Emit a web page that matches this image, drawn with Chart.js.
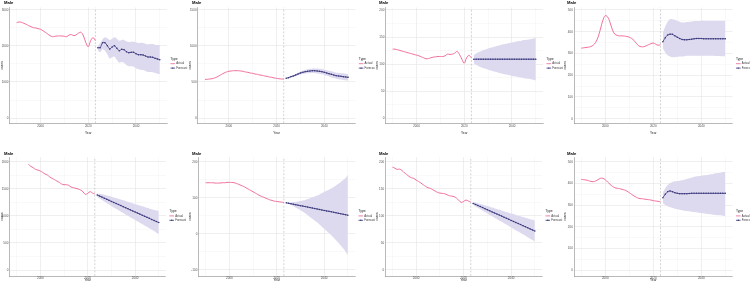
<!DOCTYPE html>
<html><head><meta charset="utf-8">
<script src="https://cdn.jsdelivr.net/npm/chart.js@4"></script>
<style>
html,body{margin:0;padding:0;background:#fff}
body{width:750px;height:282px;position:relative;overflow:hidden}
canvas{position:absolute}
</style>
</head><body>
<canvas id="c1"></canvas><canvas id="c2"></canvas><canvas id="c3"></canvas><canvas id="c4"></canvas>
<canvas id="c5"></canvas><canvas id="c6"></canvas><canvas id="c7"></canvas><canvas id="c8"></canvas>
<script>
// ---------- data ----------
const actualYears = [1990,1991,1992,1993,1994,1995,1996,1997,1998,1999,2000,2001,2002,2003,2004,2005,2006,2007,2008,2009,2010,2011,2012,2013,2014,2015,2016,2017,2018,2019,2020,2021,2022,2023];
const actualYearsFrom1995 = [1995,1996,1997,1998,1999,2000,2001,2002,2003,2004,2005,2006,2007,2008,2009,2010,2011,2012,2013,2014,2015,2016,2017,2018,2019,2020,2021,2022,2023];
const forecastYears = [2024,2025,2026,2027,2028,2029,2030,2031,2032,2033,2034,2035,2036,2037,2038,2039,2040,2041,2042,2043,2044,2045,2046,2047,2048,2049,2050];
const splitYear = 2023;
const xTickLabels = [2000, 2020, 2040];
const xGridYears = [1990, 2000, 2010, 2020, 2030, 2040, 2050];
const panelTitle = 'Male';
const seriesNames = ['Actual', 'Forecast'];

const p1Actual = [2648,2667,2657,2630,2602,2565,2537,2509,2500,2481,2463,2426,2380,2333,2287,2259,2269,2278,2278,2278,2269,2259,2306,2315,2287,2315,2361,2380,2278,2093,1981,2148,2231,2148];
const p1Forecast = [1954,1954,2093,2093,2009,1917,1972,2009,1935,1870,1907,1898,1843,1815,1824,1824,1787,1759,1759,1750,1722,1694,1694,1685,1657,1639,1620];
const p1Upper = [2000,2074,2185,2241,2213,2167,2204,2241,2204,2148,2167,2167,2130,2111,2120,2120,2102,2083,2093,2083,2065,2046,2056,2056,2037,2028,2028];
const p1Lower = [1889,1824,1907,1870,1769,1648,1685,1704,1611,1537,1556,1537,1472,1435,1435,1426,1380,1352,1343,1333,1306,1278,1278,1269,1250,1231,1222];
const p1YTicks = [0,1000,2000,3000];

const p2Actual = [537,537,542,546,556,569,588,606,625,639,648,653,657,657,657,653,648,639,634,625,620,611,606,597,593,583,579,569,565,556,551,546,542,542];
const p2Forecast = [551,560,574,583,597,611,625,634,644,648,653,657,657,653,648,644,634,625,616,606,597,588,583,579,574,569,565];
const p2Upper = [558,569,586,597,613,630,646,657,669,676,683,689,689,688,683,681,671,664,655,648,639,630,627,623,620,615,611];
const p2Lower = [544,551,562,569,581,592,604,611,619,620,623,625,625,618,613,607,597,586,577,564,555,546,539,535,528,523,519];
const p2YTicks = [0,500,1000,1500];

const p3Actual = [127.7,127.7,126.5,125.3,124.0,122.8,121.5,120.3,119.1,117.8,116.6,115.4,113.5,111.7,109.8,110.4,111.7,112.9,113.5,114.1,114.1,114.1,115.4,118.5,117.8,118.5,120.3,123.4,117.8,109.2,101.8,111.7,116.0,111.7];
const p3Forecast = [109.2,109.2,109.2,109.2,109.2,109.2,109.2,109.2,109.2,109.2,109.2,109.2,109.2,109.2,109.2,109.2,109.2,109.2,109.2,109.2,109.2,109.2,109.2,109.2,109.2,109.2,109.2];
const p3Upper = [116.6,119.7,122.2,124.0,125.9,127.1,128.9,130.2,131.4,132.6,133.9,135.1,136.3,137.0,138.2,138.8,140.1,140.7,141.9,142.5,143.1,144.4,145.0,145.6,146.2,147.5,148.1];
const p3Lower = [101.8,98.7,96.2,94.4,92.5,91.3,89.5,88.2,87.0,85.8,84.5,83.3,82.1,81.4,80.2,79.6,78.3,77.7,76.5,75.9,75.3,74.0,73.4,72.8,72.2,70.9,70.3];
const p3YTicks = [0,50,100,150,200];

const p4Actual = [324.5,326,327.6,329,332,338,351,375,412,452,474,468,443,409,389,383,381,381,380,378,375,369,360,346,335,331,331,335,340,345,348,343,338,340];
const p4Forecast = [354,372,385,389,388,381,375,369,364.5,363,363,364.5,366,367.6,369,369,369,367.6,367.6,367.6,367.6,367.6,367.6,367.6,367.6,367.6,367.6];
const p4Upper = [394,424.5,446,457,458,455,451,446,443,443,444.5,446,447.6,449,449,449,451,451,451,451,451,451,451,451,451,451,451];
const p4Lower = [324.5,304.5,292,286,283,283,284.5,286,286,287.6,289,289,289,289,289,289,289,289,289,289,289,289,288,288,287.6,287,286];
const p4YTicks = [0,100,200,300,400,500];

const p5Actual = [1951,1914,1889,1858,1846,1828,1803,1772,1754,1717,1692,1668,1643,1618,1588,1575,1575,1563,1532,1520,1508,1495,1477,1446,1397,1415,1446,1421,1403];
const p5Forecast = [1385,1365,1346,1326,1307,1287,1267,1248,1228,1209,1189,1169,1150,1130,1110,1091,1071,1052,1032,1012,993,973,954,934,914,895,875];
const p5Upper = [1415,1410,1401,1389,1378,1365,1352,1340,1327,1314,1300,1286,1273,1259,1245,1232,1218,1204,1190,1176,1163,1149,1136,1122,1110,1100,1090];
const p5Lower = [1355,1320,1291,1263,1236,1209,1182,1156,1129,1104,1078,1052,1027,1001,975,950,924,900,874,848,823,797,772,746,718,690,660];
const p5YTicks = [0,500,1000,1500,2000];

const p6Actual = [141.7,141.7,141.7,141.7,140.8,140.8,140.8,141.7,141.7,142.6,142.6,142.6,141.7,139.8,137.0,134.3,131.5,127.8,124.1,120.4,116.7,113.0,109.3,105.6,102.8,100.0,97.2,94.5,92.6,90.7,89.8,88.9,88.0,87.0];
const p6Forecast = [86.1,84.8,83.5,82.2,80.8,79.5,78.2,76.9,75.6,74.3,72.9,71.6,70.3,69.0,67.7,66.3,65.0,63.7,62.4,61.1,59.8,58.4,57.1,55.8,54.5,53.2,51.9];
const p6Upper = [87.0,86.7,87.2,87.8,88.2,89.7,91.2,92.6,94.1,96.5,98.8,101.2,103.6,106.0,109.4,112.6,115.9,119.3,122.6,125.9,130.2,134.3,138.6,143.8,149.0,155.1,163.0];
const p6Lower = [85.2,82.9,79.8,76.6,73.4,69.3,65.2,61.2,57.1,52.1,47.0,42.0,37.0,32.0,26.0,20.0,14.1,8.1,2.2,-3.7,-10.6,-17.5,-24.4,-32.2,-40.0,-48.7,-59.2];
const p6YTicks = [-100,0,100,200];

const p7Actual = [190.0,188.2,185.7,186.3,183.9,179.6,176.5,172.8,170.4,169.1,166.1,163.6,160.5,157.4,154.4,151.9,150.7,148.2,145.8,143.3,142.1,141.5,140.8,139.0,137.1,136.5,135.3,132.8,128.5,124.8,126.7,129.2,127.3,125.5];
const p7Forecast = [123.0,121.0,119.1,117.1,115.2,113.2,111.2,109.3,107.3,105.4,103.4,101.4,99.5,97.5,95.5,93.6,91.6,89.7,87.7,85.7,83.8,81.8,79.9,77.9,75.9,74.0,72.0];
const p7Upper = [125.5,124.5,123.4,122.1,120.9,119.5,118.1,116.8,115.4,114.1,112.7,111.3,110.0,108.6,107.2,105.9,104.5,103.2,101.8,100.4,99.1,97.7,96.5,95.2,93.9,92.7,91.4];
const p7Lower = [120.5,117.5,114.8,112.1,109.5,106.9,104.3,101.8,99.2,96.7,94.1,91.5,89.0,86.4,83.8,81.3,78.7,76.2,73.6,71.0,68.5,65.9,63.3,60.6,57.9,55.3,52.6];
const p7YTicks = [0,50,100,150,200];

const p8Actual = [418.8,417.2,415.7,412.6,409.6,408.0,411.1,417.2,423.4,423.4,417.2,406.5,395.8,386.6,380.4,377.4,375.8,372.8,369.7,365.1,357.4,349.8,342.1,336.0,331.3,329.8,328.3,326.7,325.2,323.7,320.6,319.1,317.5,316.0];
const p8Forecast = [334.4,349.8,362.0,365.1,362.0,357.4,354.4,352.8,352.8,352.8,352.8,353.6,354.4,354.4,354.4,354.4,354.4,354.4,354.4,354.4,354.4,354.4,354.4,354.4,354.4,354.4,354.4];
const p8Upper = [357.4,377.4,392.7,401.9,406.5,409.6,411.1,412.6,414.2,417.2,420.3,423.4,426.5,429.5,432.6,434.1,435.7,437.2,438.7,440.3,441.8,443.3,446.4,448.0,449.5,452.5,454.1];
const p8Lower = [311.4,300.7,294.5,289.9,286.9,283.8,280.7,279.2,276.1,274.6,273.1,271.5,270.0,268.4,266.9,265.4,263.8,262.3,260.8,259.2,257.7,256.2,254.6,253.1,253.1,251.6,250.1];
const p8YTicks = [0,100,200,300,400,500];

// ---------- layout / style ----------
const PINK = '#ee5f92', NAVY = '#37357a', BAND = '#dddaef';
const FONT = '"Liberation Sans", Arial, Helvetica, sans-serif';
Chart.defaults.font.family = FONT;

const panels = [
  {id:'c1', left:0,   top:0,   w:188, h:141, L:9.5,  R:167,   T:7.5, B:123.3, yMin:-147,  yMax:3069,  ax:actualYears, a:p1Actual, f:p1Forecast, u:p1Upper, lo:p1Lower, yt:p1YTicks, row:0},
  {id:'c2', left:188, top:0,   w:187, h:141, L:9.8,  R:167.3, T:7.5, B:123.3, yMin:-73.6, yMax:1534.7,ax:actualYears, a:p2Actual, f:p2Forecast, u:p2Upper, lo:p2Lower, yt:p2YTicks, row:0},
  {id:'c3', left:375, top:0,   w:188, h:141, L:10.5, R:168,   T:7.5, B:123.3, yMin:-9.3,  yMax:204.6, ax:actualYears, a:p3Actual, f:p3Forecast, u:p3Upper, lo:p3Lower, yt:p3YTicks, row:0},
  {id:'c4', left:563, top:0,   w:187, h:141, L:11,   R:169.5, T:7.5, B:123.3, yMin:-21.2, yMax:511.5, ax:actualYears, a:p4Actual, f:p4Forecast, u:p4Upper, lo:p4Lower, yt:p4YTicks, row:0},
  {id:'c5', left:0,   top:141, w:188, h:141, L:9.5,  R:165.9, T:16,  B:135,   yMin:-110.8,yMax:2086.8,ax:actualYearsFrom1995, a:p5Actual, f:p5Forecast, u:p5Upper, lo:p5Lower, yt:p5YTicks, row:1},
  {id:'c6', left:188, top:141, w:187, h:141, L:10.5, R:167,   T:16,  B:135,   yMin:-116.7,yMax:213,   ax:actualYears, a:p6Actual, f:p6Forecast, u:p6Upper, lo:p6Lower, yt:p6YTicks, row:1},
  {id:'c7', left:375, top:141, w:188, h:141, L:10.3, R:167,   T:16,  B:135,   yMin:-11.1, yMax:208.7, ax:actualYears, a:p7Actual, f:p7Forecast, u:p7Upper, lo:p7Lower, yt:p7YTicks, row:1},
  {id:'c8', left:563, top:141, w:187, h:141, L:11,   R:169.5, T:16,  B:135,   yMin:-26.2, yMax:521.6, ax:actualYears, a:p8Actual, f:p8Forecast, u:p8Upper, lo:p8Lower, yt:p8YTicks, row:1}
];

function pts(xs, ys){ return xs.map((x,i)=>({x:x, y:ys[i]})); }

function makeChart(p){
  const cv = document.getElementById(p.id);
  cv.width = p.w; cv.height = p.h;
  cv.style.left = p.left + 'px'; cv.style.top = p.top + 'px';
  cv.style.width = p.w + 'px'; cv.style.height = p.h + 'px';
  const half = (p.yt[1]-p.yt[0])/2;
  // major ticks plus the minor ones halfway between (ggplot-style minor grid)
  const yGrid = [];
  p.yt.forEach((t, i) => {
    if (i === 0 && t - half >= p.yMin) yGrid.push(t - half);
    yGrid.push(t);
    if (t + half <= p.yMax) yGrid.push(t + half);
  });
  const isMajY = v => p.yt.indexOf(v) >= 0;
  const isMajX = v => xTickLabels.indexOf(v) >= 0;
  const titleY = p.row === 0 ? 2.8 : 12.7;
  const legType = p.row === 0 ? 59.3 : 70.5;

  const deco = {
    id: 'deco' + p.id,
    afterDraw(chart){
      const ctx = chart.ctx;
      const ca = chart.chartArea;
      ctx.save();
      ctx.textBaseline = 'middle';
      ctx.textAlign = 'left';
      ctx.fillStyle = '#000';
      ctx.font = 'bold 4.2px ' + FONT;
      ctx.fillText(panelTitle, 4, titleY);
      const lx = ca.right + 3.5;
      ctx.font = '3.3px ' + FONT;
      ctx.fillStyle = '#222';
      ctx.fillText('Type', lx, legType);
      const ys = [legType + 4.4, legType + 8.8];
      const cols = [PINK, NAVY];
      for (let i = 0; i < 2; i++) {
        ctx.strokeStyle = cols[i];
        ctx.lineWidth = 0.8;
        ctx.beginPath(); ctx.moveTo(lx, ys[i]); ctx.lineTo(lx + 4.6, ys[i]); ctx.stroke();
        if (i === 1) { ctx.fillStyle = NAVY; ctx.beginPath(); ctx.arc(lx + 2.3, ys[i], 0.7, 0, Math.PI*2); ctx.fill(); }
        ctx.fillStyle = '#333';
        ctx.font = '2.8px ' + FONT;
        ctx.fillText(seriesNames[i], lx + 5.8, ys[i]);
      }
      ctx.restore();
    }
  };

  new Chart(cv, {
    type: 'line',
    data: { datasets: [
      { label: seriesNames[1], data: pts(forecastYears, p.f), borderColor: NAVY, borderWidth: 0.8,
        pointRadius: 0.75, pointBackgroundColor: NAVY, pointBorderWidth: 0, tension: 0.3, fill: false, order: 0 },
      { label: seriesNames[0], data: pts(p.ax, p.a), borderColor: PINK, borderWidth: 0.9,
        pointRadius: 0, tension: 0.4, fill: false, order: 1 },
      { label: 'split', data: [{x: splitYear, y: p.yMin}, {x: splitYear, y: p.yMax}], borderColor: '#b5b5b5',
        borderWidth: 0.6, borderDash: [2, 1.6], pointRadius: 0, fill: false, order: 2 },
      { label: 'upper', data: pts(forecastYears, p.u), borderWidth: 0, borderColor: 'rgba(0,0,0,0)',
        pointRadius: 0, tension: 0.3, fill: '+1', backgroundColor: BAND, order: 3 },
      { label: 'lower', data: pts(forecastYears, p.lo), borderWidth: 0, borderColor: 'rgba(0,0,0,0)',
        pointRadius: 0, tension: 0.3, fill: false, order: 4 }
    ]},
    options: {
      responsive: false, animation: false, devicePixelRatio: 1,
      layout: { padding: { left: 0, top: p.T, right: p.w - p.R, bottom: 0 } },
      plugins: { legend: { display: false }, tooltip: { enabled: false }, title: { display: false } },
      scales: {
        x: {
          type: 'linear', min: 1987, max: 2053,
          afterFit: s => { s.height = p.h - p.B; },
          afterBuildTicks: s => { s.ticks = xGridYears.map(v => ({ value: v })); },
          ticks: { autoSkip: false, maxRotation: 0, minRotation: 0,
                   padding: p.row === 0 ? 1.2 : 0.4, color: '#4d4d4d', font: { size: 3 },
                   callback: v => isMajX(v) ? String(v) : '' },
          grid: { drawTicks: false, color: c => isMajX(c.tick.value) ? '#e4e4e4' : '#f1f1f1',
                  lineWidth: c => isMajX(c.tick.value) ? 0.6 : 0.4 },
          border: { display: true, color: '#8a8a8a', width: 0.6 },
          title: { display: true, text: 'Year', color: '#222', font: { size: 3.2 },
                   padding: { top: 0, bottom: p.row === 0 ? 6.4 : 0 } }
        },
        y: {
          type: 'linear', min: p.yMin, max: p.yMax,
          afterFit: s => { s.width = p.L; },
          afterBuildTicks: s => { s.ticks = yGrid.map(v => ({ value: v })); },
          ticks: { autoSkip: false, padding: 1.2, color: '#4d4d4d', font: { size: 3 },
                   callback: v => isMajY(v) ? String(v) : '' },
          grid: { drawTicks: false, color: c => isMajY(c.tick.value) ? '#e4e4e4' : '#f1f1f1',
                  lineWidth: c => isMajY(c.tick.value) ? 0.6 : 0.4 },
          border: { display: true, color: '#8a8a8a', width: 0.6 },
          title: { display: true, text: 'cases', color: '#222', font: { size: 3.2 },
                   padding: { top: 0.2, bottom: 0 } }
        }
      }
    },
    plugins: [deco]
  });
}
panels.forEach(makeChart);
</script>
</body></html>
